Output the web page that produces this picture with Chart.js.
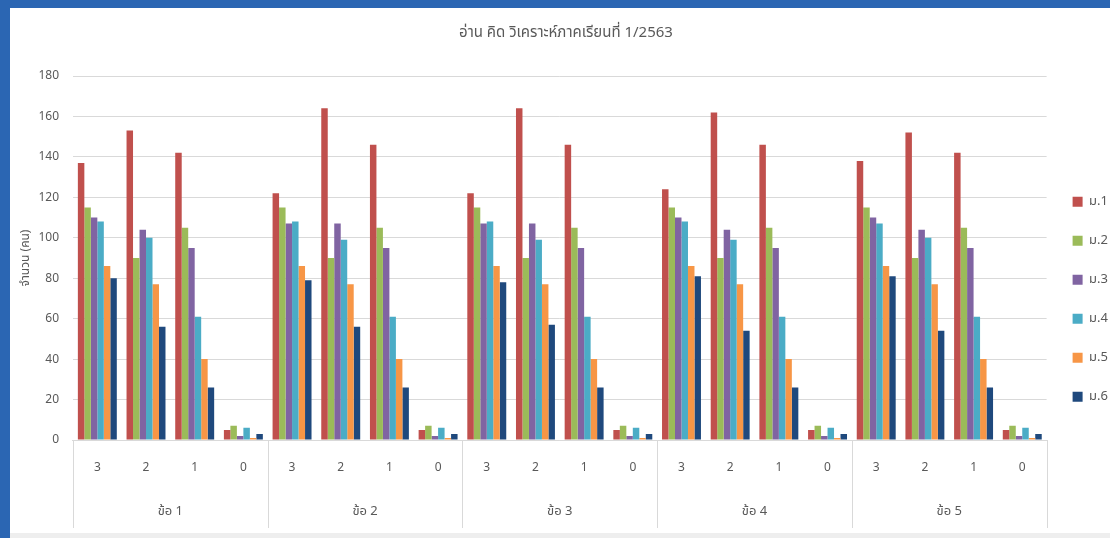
<!DOCTYPE html>
<html>
<head>
<meta charset="utf-8">
<script src="https://cdn.jsdelivr.net/npm/chart.js@4"></script>
<style>
  html, body { margin: 0; padding: 0; }
  body { width: 1110px; height: 538px; background: #2b66b3; position: relative; overflow: hidden; }
  #frame { position: absolute; left: 10px; top: 8px; width: 1100px; height: 525px; background: #fff; }
  #strip { position: absolute; left: 10px; top: 533px; width: 1100px; height: 5px; background: #eeeeee; }
</style>
</head>
<body>
<div id="frame"><canvas id="graf" width="1100" height="525"></canvas></div>
<div id="strip"></div>
<script>
const rubrik = "อ่าน คิด วิเคราะห์ภาคเรียนที่ 1/2563";
const yTitel = "จำนวน (คน)";
const poang = ["3", "2", "1", "0"];
const fragor = ["ข้อ 1", "ข้อ 2", "ข้อ 3", "ข้อ 4", "ข้อ 5"];
const klasser = ["ม.1", "ม.2", "ม.3", "ม.4", "ม.5", "ม.6"];
const farger = ["#c0504d", "#9bbb59", "#8064a2", "#4bacc6", "#f79646", "#1f497d"];

// värden per klass: ข้อ 1..5, poäng 3,2,1,0
const m1 = [137, 153, 142, 5, 122, 164, 146, 5, 122, 164, 146, 5, 124, 162, 146, 5, 138, 152, 142, 5];
const m2 = [115, 90, 105, 7, 115, 90, 105, 7, 115, 90, 105, 7, 115, 90, 105, 7, 115, 90, 105, 7];
const m3 = [110, 104, 95, 2, 107, 107, 95, 2, 107, 107, 95, 2, 110, 104, 95, 2, 110, 104, 95, 2];
const m4 = [108, 100, 61, 6, 108, 99, 61, 6, 108, 99, 61, 6, 108, 99, 61, 6, 107, 100, 61, 6];
const m5 = [86, 77, 40, 1, 86, 77, 40, 1, 86, 77, 40, 1, 86, 77, 40, 1, 86, 77, 40, 1];
const m6 = [80, 56, 26, 3, 79, 56, 26, 3, 78, 57, 26, 3, 81, 54, 26, 3, 81, 54, 26, 3];
const serier = [m1, m2, m3, m4, m5, m6];

const typsnitt = "'Noto Sans', 'Noto Sans Thai', 'DejaVu Sans', sans-serif";
const gra = "#595959";
const linje = "#d9d9d9";

const etiketter = [];
fragor.forEach(() => poang.forEach(p => etiketter.push(p)));

// lodräta avdelare mellan frågegrupperna
const avdelare = {
  id: "avdelare",
  afterDraw(chart) {
    const x = chart.scales.x;
    const x2 = chart.scales.x2;
    const ctx = chart.ctx;
    const bredd = (x.right - x.left) / fragor.length;
    ctx.save();
    ctx.strokeStyle = linje;
    ctx.lineWidth = 1;
    for (let i = 0; i <= fragor.length; i++) {
      const px = Math.round(x.left + i * bredd) + 0.5;
      ctx.beginPath();
      ctx.moveTo(px, x.top);
      ctx.lineTo(px, x2.bottom);
      ctx.stroke();
    }
    ctx.restore();
  }
};

const ctx = document.getElementById("graf").getContext("2d");
new Chart(ctx, {
  type: "bar",
  data: {
    labels: etiketter,
    datasets: serier.map((v, i) => ({
      label: klasser[i],
      data: v,
      backgroundColor: farger[i],
      borderWidth: 0,
      barPercentage: 1.0,
      categoryPercentage: 0.8
    }))
  },
  options: {
    responsive: false,
    animation: false,
    layout: { padding: { left: 4, right: -8, bottom: 5, top: 0 } },
    plugins: {
      title: {
        display: true,
        text: rubrik,
        color: gra,
        font: { family: typsnitt, size: 15, weight: "normal" },
        padding: { top: 16, bottom: 34 }
      },
      legend: {
        position: "right",
        title: { display: true, text: " ", padding: { top: 0, bottom: 48 } },
        labels: {
          boxWidth: 10,
          boxHeight: 10,
          padding: 26,
          color: gra,
          font: { family: typsnitt, size: 13 }
        }
      },
      tooltip: { enabled: false }
    },
    scales: {
      x: {
        type: "category",
        grid: { display: false, drawTicks: false },
        border: { color: linje },
        ticks: { color: gra, font: { family: typsnitt, size: 12 }, padding: 20, maxRotation: 0, autoSkip: false }
      },
      x2: {
        type: "category",
        position: "bottom",
        labels: fragor,
        grid: { display: false, drawTicks: false },
        border: { display: false },
        ticks: { color: gra, font: { family: typsnitt, size: 13 }, padding: 9 }
      },
      y: {
        min: 0,
        max: 180,
        ticks: { stepSize: 20, color: gra, font: { family: typsnitt, size: 12 }, padding: 14 },
        grid: { color: linje, drawTicks: false },
        border: { display: false },
        title: {
          display: true,
          text: yTitel,
          color: gra,
          font: { family: typsnitt, size: 12 },
          padding: { top: 4, bottom: 6 }
        },
        afterFit(skala) { skala.width -= 14; }
      }
    }
  },
  plugins: [avdelare]
});
</script>
</body>
</html>
